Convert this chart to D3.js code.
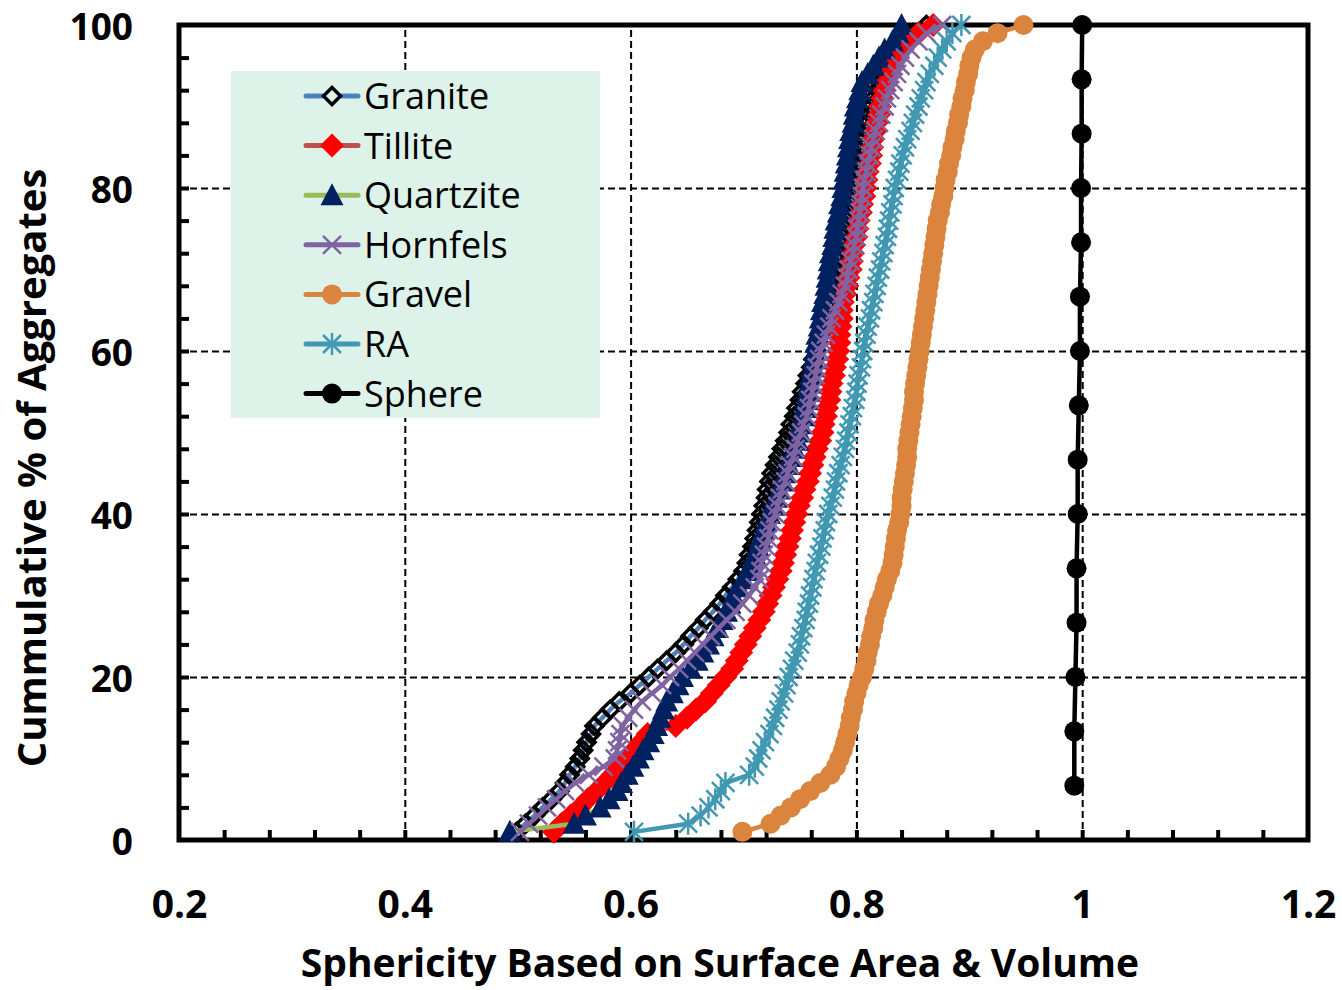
<!DOCTYPE html>
<html>
<head>
<meta charset="utf-8">
<script src="https://cdn.jsdelivr.net/npm/d3@7"></script>
<style>
  body { margin: 0; background: #fff; }
  text { font-family: "Open Sans", "Lato", sans-serif; }
</style>
</head>
<body>
<svg id="chart" width="1342" height="990"></svg>
<script>
/* -------- cumulative sphericity chart -------- */

// sorted sphericity values per aggregate type (cumulative % is the rank)
let granite = [0.499,0.507,0.515,0.522,0.530,0.537,0.542,0.546,0.551,0.555,
  0.558,0.561,0.565,0.568,0.575,0.582,0.590,0.600,0.608,0.616,
  0.624,0.632,0.640,0.647,0.653,0.660,0.666,0.673,0.679,0.684,
  0.690,0.695,0.700,0.703,0.705,0.708,0.710,0.712,0.714,0.716,
  0.718,0.720,0.721,0.723,0.725,0.728,0.731,0.734,0.737,0.740,
  0.742,0.745,0.747,0.750,0.752,0.755,0.757,0.760,0.762,0.765,
  0.767,0.768,0.770,0.771,0.773,0.775,0.777,0.778,0.780,0.782,
  0.784,0.785,0.787,0.788,0.790,0.792,0.794,0.796,0.797,0.799,
  0.800,0.802,0.803,0.805,0.806,0.807,0.809,0.810,0.812,0.813,
  0.815,0.818,0.820,0.823,0.825,0.830,0.835,0.840,0.850,0.862];

let tillite = [0.532,0.539,0.547,0.555,0.562,0.570,0.577,0.584,0.590,0.596,
  0.603,0.609,0.615,0.640,0.650,0.658,0.666,0.672,0.678,0.684,
  0.690,0.694,0.698,0.702,0.706,0.710,0.714,0.718,0.721,0.724,
  0.727,0.730,0.733,0.735,0.737,0.739,0.741,0.743,0.745,0.747,
  0.749,0.752,0.754,0.757,0.759,0.761,0.763,0.765,0.768,0.770,
  0.771,0.773,0.774,0.776,0.777,0.778,0.780,0.781,0.783,0.784,
  0.785,0.785,0.786,0.787,0.787,0.788,0.790,0.792,0.793,0.795,
  0.796,0.797,0.798,0.800,0.801,0.802,0.804,0.805,0.807,0.808,
  0.809,0.810,0.812,0.813,0.814,0.815,0.817,0.818,0.820,0.821,
  0.823,0.825,0.827,0.830,0.832,0.836,0.840,0.847,0.855,0.868];

let quartzite = [0.493,0.550,0.560,0.573,0.581,0.588,0.592,0.597,0.602,0.607,
  0.611,0.616,0.620,0.623,0.626,0.629,0.632,0.637,0.642,0.646,
  0.653,0.659,0.664,0.669,0.673,0.677,0.681,0.685,0.688,0.691,
  0.696,0.700,0.704,0.707,0.710,0.713,0.715,0.718,0.720,0.723,
  0.726,0.729,0.732,0.735,0.737,0.740,0.742,0.745,0.748,0.750,
  0.751,0.753,0.754,0.756,0.757,0.758,0.759,0.761,0.762,0.763,
  0.764,0.765,0.767,0.768,0.769,0.770,0.772,0.773,0.774,0.775,
  0.776,0.777,0.779,0.780,0.781,0.782,0.784,0.785,0.787,0.788,
  0.789,0.790,0.791,0.792,0.793,0.794,0.795,0.797,0.798,0.799,
  0.801,0.803,0.805,0.810,0.815,0.820,0.825,0.832,0.837,0.840];

let hornfels = [0.502,0.510,0.518,0.526,0.534,0.542,0.551,0.563,0.576,0.586,
  0.588,0.590,0.591,0.593,0.598,0.603,0.610,0.619,0.628,0.635,
  0.643,0.650,0.657,0.664,0.671,0.678,0.685,0.693,0.699,0.705,
  0.710,0.714,0.715,0.716,0.718,0.720,0.722,0.723,0.725,0.728,
  0.730,0.732,0.734,0.737,0.739,0.741,0.744,0.746,0.748,0.751,
  0.753,0.756,0.758,0.759,0.761,0.762,0.764,0.765,0.767,0.768,
  0.771,0.773,0.776,0.778,0.781,0.784,0.787,0.790,0.792,0.793,
  0.795,0.797,0.798,0.800,0.801,0.802,0.803,0.804,0.805,0.806,
  0.807,0.809,0.810,0.812,0.813,0.815,0.817,0.820,0.822,0.825,
  0.827,0.830,0.833,0.836,0.839,0.843,0.848,0.855,0.862,0.876];

let gravel = [0.699,0.724,0.733,0.742,0.750,0.759,0.768,0.777,0.782,0.785,
  0.788,0.790,0.792,0.794,0.795,0.797,0.798,0.800,0.802,0.805,
  0.807,0.809,0.810,0.812,0.813,0.815,0.816,0.818,0.820,0.823,
  0.825,0.827,0.830,0.832,0.833,0.834,0.835,0.836,0.838,0.839,
  0.840,0.840,0.841,0.842,0.843,0.844,0.845,0.845,0.846,0.847,
  0.848,0.849,0.850,0.851,0.851,0.852,0.853,0.854,0.855,0.856,
  0.857,0.858,0.859,0.860,0.861,0.862,0.863,0.864,0.865,0.866,
  0.867,0.868,0.869,0.870,0.871,0.872,0.874,0.875,0.877,0.878,
  0.879,0.881,0.882,0.884,0.885,0.887,0.888,0.890,0.891,0.893,
  0.894,0.896,0.897,0.899,0.900,0.902,0.905,0.912,0.925,0.948];

let ra = [0.603,0.651,0.662,0.669,0.675,0.680,0.684,0.705,0.710,0.713,
  0.716,0.719,0.723,0.726,0.728,0.731,0.733,0.736,0.738,0.740,
  0.743,0.745,0.748,0.750,0.751,0.753,0.755,0.756,0.758,0.759,
  0.761,0.762,0.764,0.765,0.767,0.769,0.770,0.772,0.773,0.775,
  0.777,0.779,0.781,0.782,0.784,0.786,0.788,0.790,0.791,0.793,
  0.794,0.796,0.797,0.799,0.800,0.801,0.802,0.804,0.805,0.806,
  0.807,0.809,0.810,0.812,0.813,0.815,0.816,0.818,0.819,0.821,
  0.822,0.824,0.825,0.827,0.828,0.829,0.830,0.832,0.833,0.834,
  0.836,0.838,0.839,0.841,0.843,0.845,0.848,0.850,0.852,0.855,
  0.857,0.860,0.862,0.865,0.869,0.872,0.876,0.880,0.885,0.893];

let sphere = [0.993,0.993,0.994,0.995,0.995,0.996,0.996,0.997,0.998,0.998,
  0.999,0.999,0.9995,0.9995,1.0];

let seriesNames = ["Granite", "Tillite", "Quartzite", "Hornfels", "Gravel", "RA", "Sphere"];
let seriesValues = [granite, tillite, quartzite, hornfels, gravel, ra, sphere];
let lineColors = ["#4f81bd", "#c0504d", "#9bbb59", "#8064a2", "#db843d", "#4198b2", "#000000"];
let markerColors = ["#000000", "#ff0000", "#002060", "#8064a2", "#db843d", "#4198b2", "#000000"];
let markerTypes = ["diamondOpen", "diamond", "triangle", "cross", "circle", "star", "circleBig"];

let xTicks = [0.2, 0.4, 0.6, 0.8, 1.0, 1.2];
let xTickLabels = ["0.2", "0.4", "0.6", "0.8", "1", "1.2"];
let yTicks = [0, 20, 40, 60, 80, 100];

let plotLeft = 179, plotRight = 1308, plotTop = 25, plotBottom = 840;

let svg = d3.select("#chart");

let scaleX = d3.scaleLinear().domain([0.2, 1.2]).range([plotLeft, plotRight]);
let scaleY = d3.scaleLinear().domain([0, 100]).range([plotBottom, plotTop]);

// cumulative percentages from rank
let data = seriesValues.map(vals => vals.map((v, i) => ({ x: v, y: (i + 1) / vals.length * 100 })));

// gridlines
svg.append("g")
    .attr("transform", `translate(0, ${plotBottom})`)
    .call(d3.axisBottom(scaleX).tickValues([0.4, 0.6, 0.8, 1.0]).tickSize(-(plotBottom - plotTop)).tickFormat(""))
    .call(g => g.select(".domain").remove())
    .selectAll("line")
        .attr("stroke", "#000")
        .attr("stroke-width", 2)
        .attr("stroke-dasharray", "7,4");

svg.append("g")
    .attr("transform", `translate(${plotLeft}, 0)`)
    .call(d3.axisLeft(scaleY).tickValues([20, 40, 60, 80]).tickSize(-(plotRight - plotLeft)).tickFormat(""))
    .call(g => g.select(".domain").remove())
    .selectAll("line")
        .attr("stroke", "#000")
        .attr("stroke-width", 2)
        .attr("stroke-dasharray", "7,4");

// minor ticks, pointing inward
svg.append("g")
    .attr("transform", `translate(0, ${plotBottom})`)
    .call(d3.axisBottom(scaleX).tickValues(d3.range(0.24, 1.2, 0.04)).tickSize(-10).tickFormat(""))
    .call(g => g.select(".domain").remove())
    .selectAll("line")
        .attr("stroke", "#000")
        .attr("stroke-width", 4);

svg.append("g")
    .attr("transform", `translate(${plotLeft}, 0)`)
    .call(d3.axisLeft(scaleY).tickValues(d3.range(4, 100, 4)).tickSize(-10).tickFormat(""))
    .call(g => g.select(".domain").remove())
    .selectAll("line")
        .attr("stroke", "#000")
        .attr("stroke-width", 4);

// tick labels
svg.append("g")
    .attr("transform", `translate(0, ${plotBottom})`)
    .call(d3.axisBottom(scaleX).tickValues(xTicks).tickSize(0).tickPadding(0)
        .tickFormat((d, i) => xTickLabels[i]))
    .call(g => g.select(".domain").remove())
    .selectAll("text")
        .attr("y", 78)
        .attr("dy", 0)
        .attr("font-size", "39px")
        .attr("font-weight", "bold")
        .attr("font-family", "Open Sans")
        .attr("fill", "#000");

svg.append("g")
    .attr("transform", `translate(${plotLeft}, 0)`)
    .call(d3.axisLeft(scaleY).tickValues(yTicks).tickSize(0).tickPadding(0))
    .call(g => g.select(".domain").remove())
    .selectAll("text")
        .attr("x", -46)
        .attr("dy", "0.4em")
        .attr("font-size", "37px")
        .attr("font-weight", "bold")
        .attr("font-family", "Open Sans")
        .attr("fill", "#000");

// frame
svg.append("rect")
    .attr("x", plotLeft)
    .attr("y", plotTop)
    .attr("width", plotRight - plotLeft)
    .attr("height", plotBottom - plotTop)
    .attr("fill", "none")
    .attr("stroke", "#000")
    .attr("stroke-width", 5);

// axis titles
svg.append("text")
    .attr("x", 720)
    .attr("y", 977)
    .attr("text-anchor", "middle")
    .attr("font-size", "39px")
    .attr("font-weight", "bold")
    .text("Sphericity Based on Surface Area & Volume");

svg.append("text")
    .attr("transform", `translate(46, 468) rotate(-90)`)
    .attr("text-anchor", "middle")
    .attr("font-size", "40px")
    .attr("font-weight", "bold")
    .text("Cummulative % of Aggregates");

// marker drawing
function drawMarker(sel, type, color) {
    if (type === "circle" || type === "circleBig") {
        sel.append("circle")
            .attr("r", 10)
            .attr("fill", color);
    } else if (type === "diamond") {
        sel.append("path").attr("d", "M0,-12L12,0L0,12L-12,0Z").attr("fill", color);
    } else if (type === "diamondOpen") {
        sel.append("path").attr("d", "M0,-8.5L8.5,0L0,8.5L-8.5,0Z")
            .attr("fill", "none").attr("stroke", color).attr("stroke-width", 3.5);
    } else if (type === "triangle") {
        sel.append("path").attr("d", "M0,-12L11.5,10L-11.5,10Z").attr("fill", color);
    } else if (type === "cross") {
        sel.append("path").attr("d", "M-9,-9L9,9M-9,9L9,-9")
            .attr("stroke", color).attr("stroke-width", 2.5);
    } else if (type === "star") {
        sel.append("path").attr("d", "M-9,-9L9,9M-9,9L9,-9M0,-11L0,11")
            .attr("stroke", color).attr("stroke-width", 2.5);
    }
}

let line = d3.line().x(d => scaleX(d.x)).y(d => scaleY(d.y));

let plot = svg.append("g").attr("id", "marks");

data.forEach((pts, s) => {
    let g = plot.append("g");
    g.append("path")
        .datum(pts)
        .attr("d", line)
        .attr("fill", "none")
        .attr("stroke", lineColors[s])
        .attr("stroke-width", 4.5)
        .attr("stroke-linejoin", "round");
    g.selectAll("g.pt").data(pts)
        .join("g")
        .attr("class", "pt")
        .attr("transform", d => `translate(${scaleX(d.x)}, ${scaleY(d.y)})`)
        .each(function () { drawMarker(d3.select(this), markerTypes[s], markerColors[s]); });
});

// legend
let legend = svg.append("g").attr("id", "legend");
legend.append("rect")
    .attr("x", 231)
    .attr("y", 71)
    .attr("width", 369)
    .attr("height", 347)
    .attr("fill", "#ddf2e9");

seriesNames.forEach((name, i) => {
    let y = 96 + i * 49.6;
    let item = legend.append("g");
    item.append("line")
        .attr("x1", 306).attr("x2", 358)
        .attr("y1", y).attr("y2", y)
        .attr("stroke", lineColors[i])
        .attr("stroke-width", 5)
        .attr("stroke-linecap", "round");
    let m = item.append("g").attr("transform", `translate(332, ${y})`);
    if (markerTypes[i] === "diamondOpen") {
        m.append("path").attr("d", "M0,-8.5L8.5,0L0,8.5L-8.5,0Z").attr("fill", "#ddf2e9");
    }
    drawMarker(m, markerTypes[i], markerColors[i]);
    item.append("text")
        .attr("x", 364)
        .attr("y", y)
        .attr("dy", "0.36em")
        .attr("font-size", "36px")
        .attr("fill", "#000")
        .text(name);
});
</script>
</body>
</html>
